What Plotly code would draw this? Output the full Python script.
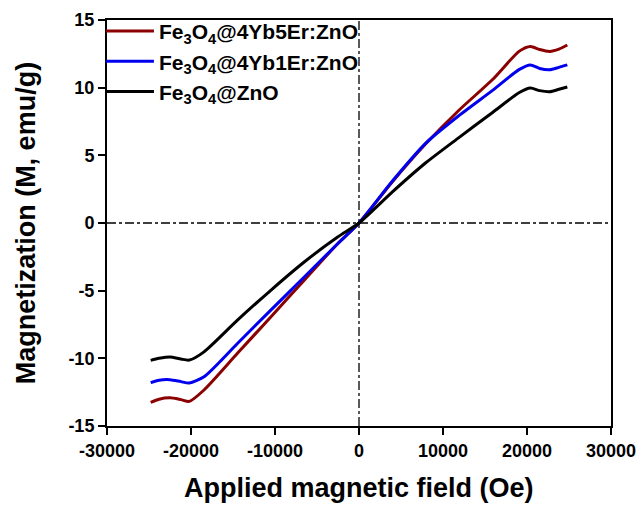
import plotly.graph_objects as go

field = [-24800, -23800, -22500, -21200, -20200, -18450, -14470, -10500, -6520, -2540, 0,
         3980, 7950, 11930, 15900, 19090, 20400, 21500, 22700, 23800, 24800]

m_5er = [-13.25, -13.02, -12.92, -13.05, -13.18, -12.34, -9.63, -6.94, -4.23, -1.53, 0.0,
         3.05, 5.85, 8.35, 10.6, 12.7, 13.05, 12.82, 12.68, 12.85, 13.15]
m_1er = [-11.8, -11.62, -11.58, -11.72, -11.82, -11.36, -8.9, -6.44, -3.99, -1.53, 0.0,
         3.1, 5.9, 7.95, 9.8, 11.35, 11.68, 11.42, 11.32, 11.5, 11.68]
m_zno = [-10.15, -10.0, -9.9, -10.05, -10.13, -9.52, -7.18, -4.97, -2.88, -1.04, 0.0,
         2.3, 4.45, 6.33, 8.17, 9.64, 9.97, 9.78, 9.7, 9.88, 10.05]

names = ["Fe<sub>3</sub>O<sub>4</sub>@4Yb5Er:ZnO",
         "Fe<sub>3</sub>O<sub>4</sub>@4Yb1Er:ZnO",
         "Fe<sub>3</sub>O<sub>4</sub>@ZnO"]
colors = ["#8B0000", "#0000EE", "#000000"]

x_ticks = [-30000, -20000, -10000, 0, 10000, 20000, 30000]
y_ticks = [-15, -10, -5, 0, 5, 10, 15]

x_title = "Applied magnetic field (Oe)"
y_title = "Magnetization (M, emu/g)"

FONT = "Liberation Sans, Arial, sans-serif"

fig = go.Figure()
for ys, nm, c in zip([m_5er, m_1er, m_zno], names, colors):
    fig.add_trace(go.Scatter(x=field, y=ys, mode="lines", name=nm,
                             line=dict(color=c, width=3, shape="spline", smoothing=0.7)))

# dash-dot crosshairs
fig.add_shape(type="line", xref="x", yref="paper", x0=0, x1=0, y0=0, y1=1,
              line=dict(color="black", width=1.3, dash="dashdot"), layer="below")
fig.add_shape(type="line", xref="paper", yref="y", x0=0, x1=1, y0=0, y1=0,
              line=dict(color="black", width=1.3, dash="dashdot"), layer="below")

# axis titles as annotations (fixed positions)
fig.add_annotation(text=x_title, xref="paper", yref="paper", x=0.5, y=-0.152,
                   xanchor="center", yanchor="middle", showarrow=False,
                   font=dict(family=FONT, size=27, weight="bold", color="black"))
fig.add_annotation(text=y_title, xref="paper", yref="paper", x=-0.16, y=0.5,
                   xanchor="center", yanchor="middle", showarrow=False, textangle=-90,
                   font=dict(family=FONT, size=27, weight="bold", color="black"))

fig.update_layout(
    width=642, height=506,
    margin=dict(l=107, r=31, t=19, b=80),
    plot_bgcolor="white", paper_bgcolor="white",
    font=dict(family=FONT, color="black"),
    showlegend=True,
    legend=dict(x=-0.012, y=1.02, xanchor="left", yanchor="top",
                bgcolor="rgba(0,0,0,0)", borderwidth=0,
                itemwidth=48,
                font=dict(family=FONT, size=21, weight="bold", color="black"),
                tracegroupgap=0),
    xaxis=dict(range=[-30000, 30000], tickvals=x_ticks,
               ticktext=[str(v) for v in x_ticks],
               showgrid=False, zeroline=False, automargin=False,
               showline=True, linecolor="black", linewidth=2, mirror=True,
               ticks="outside", ticklen=7, tickwidth=2, tickcolor="black",
               tickfont=dict(family=FONT, size=18, weight="bold")),
    yaxis=dict(range=[-15, 15], tickvals=y_ticks,
               ticktext=[str(v) for v in y_ticks],
               showgrid=False, zeroline=False, automargin=False,
               showline=True, linecolor="black", linewidth=2, mirror=True,
               ticks="outside", ticklen=7, tickwidth=2, tickcolor="black",
               tickfont=dict(family=FONT, size=18, weight="bold")),
)

fig.write_html("out.html")
